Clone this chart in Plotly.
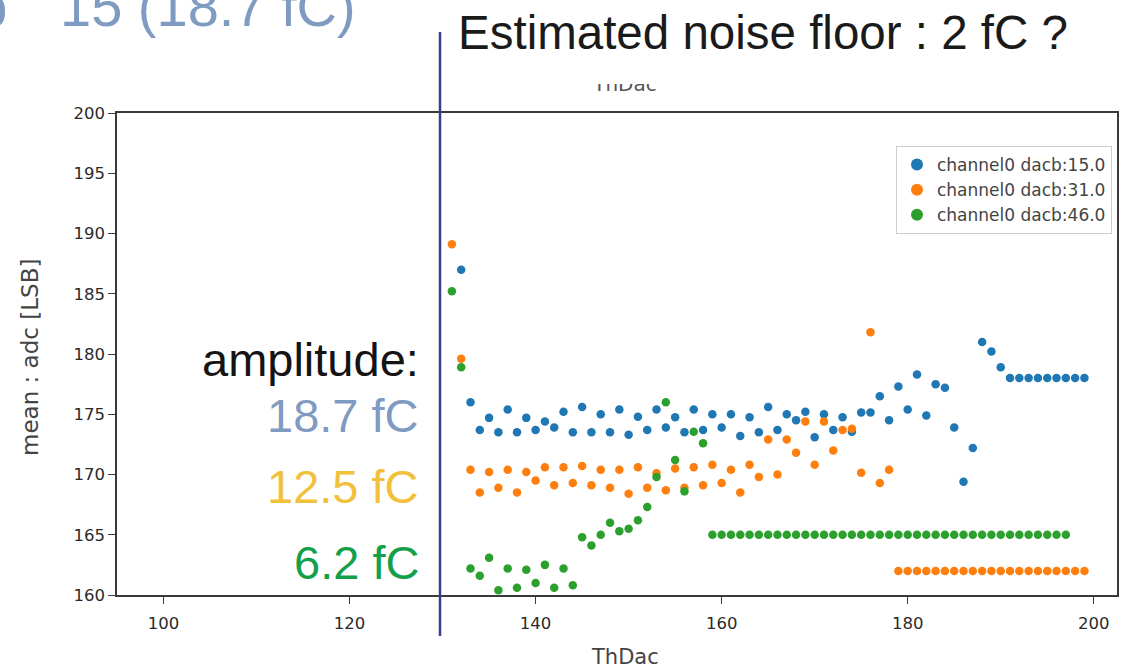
import plotly.graph_objects as go

# ThDac scan, one value per threshold setting
thdac = list(range(131, 200))

adc_dacb15 = [None, 187.0, 176.0, 173.7, 174.7, 173.5, 175.4, 173.5, 174.7, 173.7,
              174.4, 173.9, 175.2, 173.5, 175.6, 173.5, 175.0, 173.5, 175.4, 173.3,
              174.8, 173.7, 175.4, 173.9, 174.75, 173.5, 175.4, 173.7, 175.0, 173.9,
              175.0, 173.2, 174.75, 173.5, 175.6, 173.7, 175.0, 174.5, 175.2, 173.1,
              175.0, 173.7, 174.75, 173.55, 175.15, 175.15, 176.5, 174.5, 177.3, 175.4,
              178.3, 174.9, 177.5, 177.2, 173.9, 169.4, 172.2, 181.0, 180.2, 178.9,
              178, 178, 178, 178, 178, 178, 178, 178, 178]

adc_dacb31 = [189.1, 179.6, 170.4, 168.5, 170.2, 168.9, 170.4, 168.5, 170.2, 169.5,
              170.6, 169.1, 170.6, 169.3, 170.7, 169.1, 170.4, 168.9, 170.4, 168.4,
              170.6, 168.9, 170.1, 168.7, 170.5, 168.9, 170.6, 169.1, 170.8, 169.3,
              170.4, 168.5, 170.8, 169.8, 172.9, 170.0, 172.9, 171.8, 174.4, 170.8,
              174.4, 172.0, 173.7, 173.8, 170.15, 181.8, 169.3, 170.4,
              162, 162, 162, 162, 162, 162, 162, 162, 162, 162, 162, 162, 162, 162,
              162, 162, 162, 162, 162, 162, 162]

adc_dacb46 = [185.2, 178.9, 162.2, 161.6, 163.1, 160.4, 162.2, 160.6, 162.1, 161.0,
              162.5, 160.6, 162.2, 160.8, 164.8, 164.1, 165.0, 166.0, 165.3, 165.5,
              166.2, 167.3, 169.8, 176.0, 171.2, 168.6, 173.55, 172.6,
              165, 165, 165, 165, 165, 165, 165, 165, 165, 165, 165, 165, 165, 165,
              165, 165, 165, 165, 165, 165, 165, 165, 165, 165, 165, 165, 165, 165,
              165, 165, 165, 165, 165, 165, 165, 165, 165, 165, 165]

series_names = ["channel0 dacb:15.0", "channel0 dacb:31.0", "channel0 dacb:46.0"]
series_colors = ["#1f77b4", "#ff7f0e", "#2ca02c"]

x_ticks = [100, 120, 140, 160, 180, 200]
y_ticks = [160, 165, 170, 175, 180, 185, 190, 195, 200]

W, H = 1129, 671
MARGIN_L, MARGIN_R, MARGIN_B = 117, 12, 76
PAPER_H = H - MARGIN_B            # paper spans from the top edge to the x axis
PLOT_W = W - MARGIN_L - MARGIN_R


def px(x):
    return (x - MARGIN_L) / PLOT_W


def py(y):
    return (PAPER_H - y) / PAPER_H


AX_TOP = 113                      # pixel row of the top spine
MAIN_TOP = py(AX_TOP)

fig = go.Figure()
for vals, name, col in zip([adc_dacb15, adc_dacb31, adc_dacb46], series_names, series_colors):
    fig.add_trace(go.Scatter(
        x=thdac, y=vals, mode="markers", name=name,
        marker=dict(color=col, size=8.5, line=dict(width=0)),
    ))

# axes title sits mostly behind the slide text box; only its lower edge shows
fig.add_trace(go.Scatter(
    x=[0.508], y=[0.93], mode="text", text=["ThDac"], xaxis="x2", yaxis="y2",
    textfont=dict(family="DejaVu Sans", size=20, color="#555"),
    cliponaxis=True, showlegend=False, hoverinfo="skip",
))

axis_common = dict(
    showgrid=False, zeroline=False, showline=True, mirror=True,
    linecolor="#3a3a3a", linewidth=1.5,
    ticks="outside", ticklen=7, tickwidth=1.3, tickcolor="#3a3a3a",
    tickfont=dict(family="DejaVu Sans", size=16.5, color="#2a2a2a"),
)

fig.update_layout(
    width=W, height=H,
    margin=dict(l=MARGIN_L, r=MARGIN_R, t=0, b=MARGIN_B, autoexpand=False),
    paper_bgcolor="white", plot_bgcolor="white",
    xaxis=dict(range=[95, 202.5], tickvals=x_ticks, ticklabelstandoff=5, **axis_common),
    yaxis=dict(range=[160, 200], tickvals=y_ticks, domain=[0, MAIN_TOP], **axis_common),
    xaxis2=dict(domain=[0, 1], range=[0, 1], visible=False, anchor="y2"),
    yaxis2=dict(domain=[py(112), py(84)], range=[0, 1], visible=False, anchor="x2"),
    legend=dict(
        x=px(1112), y=py(146), xanchor="right", yanchor="top",
        bgcolor="rgba(255,255,255,0.9)", bordercolor="#cccccc", borderwidth=1,
        font=dict(family="DejaVu Sans", size=17, color="#444"),
        itemsizing="constant", tracegroupgap=0,
    ),
    showlegend=True,
)

# slide marker: vertical line at the estimated noise floor
fig.add_shape(type="line", xref="paper", yref="paper",
              x0=px(440), x1=px(440), y0=py(636), y1=py(32),
              line=dict(color="#3b3f8f", width=2.5))

ann = []
ann.append(dict(text="mean : adc [LSB]", x=px(30), y=py(358), textangle=-90,
                font=dict(family="DejaVu Sans", size=23, color="#444")))
ann.append(dict(text="ThDac", x=px(625), y=py(657),
                font=dict(family="DejaVu Sans", size=21, color="#444")))
ann.append(dict(text="Estimated noise floor : 2 fC ?", x=px(456), y=py(32), xanchor="left",
                font=dict(family="Liberation Sans", size=47.5, color="#1a1a1a")))
ann.append(dict(text="dacb", x=px(9), y=py(7), xanchor="right",
                font=dict(family="Liberation Sans", size=56, color="#7f9bc2")))
ann.append(dict(text="15 (18.7 fC)", x=px(58), y=py(7), xanchor="left",
                font=dict(family="Liberation Sans", size=56, color="#7f9bc2")))
ann.append(dict(text="amplitude:", x=px(421), y=py(359), xanchor="right",
                font=dict(family="Liberation Sans", size=47, color="#141414")))
ann.append(dict(text="18.7 fC", x=px(421), y=py(415), xanchor="right",
                font=dict(family="Liberation Sans", size=47, color="#7f9bc2")))
ann.append(dict(text="12.5 fC", x=px(421), y=py(486), xanchor="right",
                font=dict(family="Liberation Sans", size=47, color="#f2c13c")))
ann.append(dict(text="6.2 fC", x=px(421), y=py(562), xanchor="right",
                font=dict(family="Liberation Sans", size=47, color="#14a04a")))
for a in ann:
    a.setdefault("xanchor", "center")
    fig.add_annotation(xref="paper", yref="paper", yanchor="middle", showarrow=False, **a)

fig.write_html("out.html")
